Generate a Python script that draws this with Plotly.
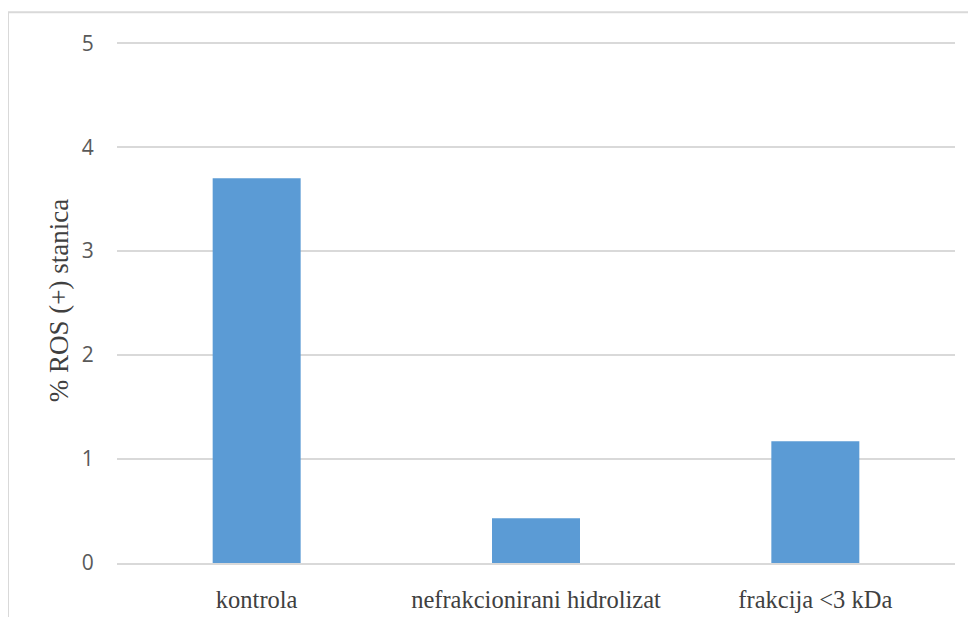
import plotly.graph_objects as go

categories = ["kontrola", "nefrakcionirani hidrolizat", "frakcija <3 kDa"]
values = [3.70, 0.43, 1.17]
y_ticks = [0, 1, 2, 3, 4, 5]
y_title = "% ROS (+) stanica"

# page body has an 8px margin, so the figure is placed at (8, 8)
OFF = 8
Y_TOP = 5.05
W, H = 976 - OFF, 617 - OFF
L, R, B = 117 - OFF, 21, 54
ZERO_Y, FIVE_Y = 563, 43          # target pixel rows (page coords)
unit = (ZERO_Y - FIVE_Y) / 5
T = ZERO_Y - unit * Y_TOP - OFF
pw, ph = W - L - R, H - T - B

fig = go.Figure(go.Bar(
    x=categories, y=values,
    marker=dict(color="#5B9BD5", line=dict(width=0)),
    width=0.315,
))

serif = "Liberation Serif, Times New Roman, serif"

fig.update_layout(
    width=W, height=H,
    margin=dict(l=L, r=R, t=T, b=B, pad=0, autoexpand=False),
    paper_bgcolor="white", plot_bgcolor="white",
    showlegend=False,
    xaxis=dict(
        automargin=False,
        showgrid=False, showline=True, linecolor="#d9d9d9", linewidth=1.5,
        tickfont=dict(family=serif, size=24.5, color="#404040"),
        ticks="outside", ticklen=0, ticklabelstandoff=14,
    ),
    yaxis=dict(
        automargin=False,
        range=[0, Y_TOP], tickvals=y_ticks, showgrid=True, gridcolor="#d9d9d9", gridwidth=1.5,
        zeroline=False, showline=False,
        tickfont=dict(family="Open Sans", size=21, color="#595959"),
        ticks="outside", ticklen=0, ticklabelstandoff=18,
        title=dict(text=y_title, font=dict(family=serif, size=27, color="#404040"), standoff=5),
    ),
    shapes=[dict(
        type="rect", xref="paper", yref="paper",
        x0=(8 - 117) / pw, x1=(976 + 10 - 117) / pw,
        y0=(ZERO_Y - 630) / ph, y1=(ZERO_Y - 12) / ph,
        line=dict(color="#d9d9d9", width=2), fillcolor="rgba(0,0,0,0)", layer="below",
    )],
)

fig.write_html("out.html")
